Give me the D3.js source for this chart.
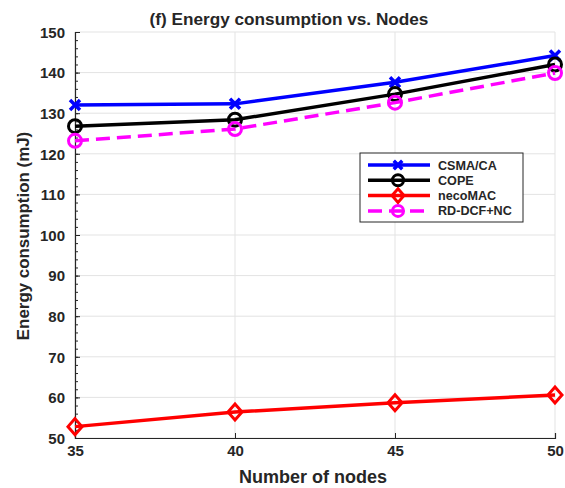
<!DOCTYPE html>
<html><head><meta charset="utf-8">
<script src="https://cdn.jsdelivr.net/npm/d3@7"></script>
<style>body{margin:0;background:#fff}text{font-family:"Liberation Sans",Arial,sans-serif;font-weight:bold;fill:#262626}</style>
</head><body><svg id="c" width="565" height="488"></svg>
<script>
const nodes = [35, 40, 45, 50];
const csma = [132.0, 132.3, 137.6, 144.2];
const cope = [126.8, 128.4, 134.7, 142.0];
const neco = [52.8, 56.4, 58.7, 60.6];
const rddcf = [123.2, 126.1, 132.6, 139.9];
const yTicks = [50, 60, 70, 80, 90, 100, 110, 120, 130, 140, 150];
const seriesNames = ["CSMA/CA", "COPE", "necoMAC", "RD-DCF+NC"];

const series = [
  {name: seriesNames[0], vals: csma, color: "#0000ff", marker: "x", dash: null},
  {name: seriesNames[1], vals: cope, color: "#000000", marker: "o", dash: null},
  {name: seriesNames[2], vals: neco, color: "#ff0000", marker: "d", dash: null},
  {name: seriesNames[3], vals: rddcf, color: "#ff00ff", marker: "o", dash: "14,7"}
];

const svg = d3.select("#c");
const L = 75, R = 555, T = 32, B = 438;
const x = d3.scaleLinear().domain([35, 50]).range([L, R]);
const y = d3.scaleLinear().domain([50, 150]).range([B, T]);

// grid
svg.append("g").selectAll("line").data(yTicks).join("line")
  .attr("x1", L).attr("x2", R).attr("y1", d => y(d)).attr("y2", d => y(d))
  .attr("stroke", "#e3e3e3").attr("stroke-width", 1);
svg.append("g").selectAll("line").data(nodes).join("line")
  .attr("y1", T).attr("y2", B).attr("x1", d => x(d)).attr("x2", d => x(d))
  .attr("stroke", "#e3e3e3").attr("stroke-width", 1);

// axes
const yAxis = svg.append("g").attr("transform", `translate(${L},0)`)
  .call(d3.axisLeft(y).tickValues(yTicks).tickSize(-5).tickPadding(10));
const yMinor = svg.append("g").attr("transform", `translate(${L},0)`)
  .call(d3.axisLeft(y).tickValues(d3.range(50, 151, 2)).tickSize(-3).tickFormat(""));
const xAxis = svg.append("g").attr("transform", `translate(0,${B})`)
  .call(d3.axisBottom(x).tickValues(nodes).tickSize(-5));
[yAxis, yMinor, xAxis].forEach(g => {
  g.select(".domain").attr("stroke", "#262626").attr("stroke-width", 1.2);
  g.selectAll(".tick line").attr("stroke", "#262626");
});
yMinor.select(".domain").remove();
yAxis.selectAll("text").attr("font-size", 15).attr("fill", "#262626").attr("dy", "0.35em");
xAxis.selectAll("text").attr("font-size", 15).attr("fill", "#262626").attr("y", 18).attr("dy", 0);

// labels
svg.append("text").attr("x", 289).attr("y", 25).attr("text-anchor", "middle")
  .attr("font-size", 17.2).text("(f) Energy consumption vs. Nodes");
svg.append("text").attr("x", 313).attr("y", 483).attr("text-anchor", "middle")
  .attr("font-size", 18).text("Number of nodes");
svg.append("text").attr("transform", "translate(28.5,236) rotate(-90)").attr("text-anchor", "middle")
  .attr("font-size", 16.9).text("Energy consumption (mJ)");

function drawMarker(g, mk, cx, cy, color, scale) {
  const s = scale || 1;
  if (mk === "o") {
    g.append("circle").attr("cx", cx).attr("cy", cy).attr("r", 6.5 * s)
      .attr("fill", "none").attr("stroke", color).attr("stroke-width", 3);
  } else if (mk === "d") {
    const h = 8 * s, w = 7 * s;
    g.append("path").attr("d", `M${cx},${cy - h}L${cx + w},${cy}L${cx},${cy + h}L${cx - w},${cy}Z`)
      .attr("fill", "none").attr("stroke", color).attr("stroke-width", 3);
  } else {
    const a = 5 * s;
    g.append("path").attr("d", `M${cx - a},${cy - a}L${cx + a},${cy + a}M${cx - a},${cy + a}L${cx + a},${cy - a}`)
      .attr("stroke", color).attr("stroke-width", 3.5).attr("fill", "none");
  }
}

const line = d3.line().x((d, i) => x(nodes[i])).y(d => y(d));
series.forEach(s => {
  const g = svg.append("g");
  g.append("path").datum(s.vals).attr("d", line).attr("fill", "none")
    .attr("stroke", s.color).attr("stroke-width", 3.5)
    .attr("stroke-dasharray", s.dash);
  s.vals.forEach((v, i) => drawMarker(g, s.marker, x(nodes[i]), y(v), s.color));
});

// legend
const lg = svg.append("g");
lg.append("rect").attr("x", 360).attr("y", 153).attr("width", 163).attr("height", 69)
  .attr("fill", "#fff").attr("stroke", "#262626").attr("stroke-width", 1);
series.forEach((s, i) => {
  const yy = 165 + i * 15.3;
  lg.append("line").attr("x1", 368).attr("x2", 430).attr("y1", yy).attr("y2", yy)
    .attr("stroke", s.color).attr("stroke-width", 3.5).attr("stroke-dasharray", s.dash);
  drawMarker(lg, s.marker, 398, yy, s.color, 0.85);
  lg.append("text").attr("x", 438).attr("y", yy).attr("dy", "0.36em")
    .attr("font-size", 12.6).attr("fill", "#000").text(s.name);
});
</script></body></html>
